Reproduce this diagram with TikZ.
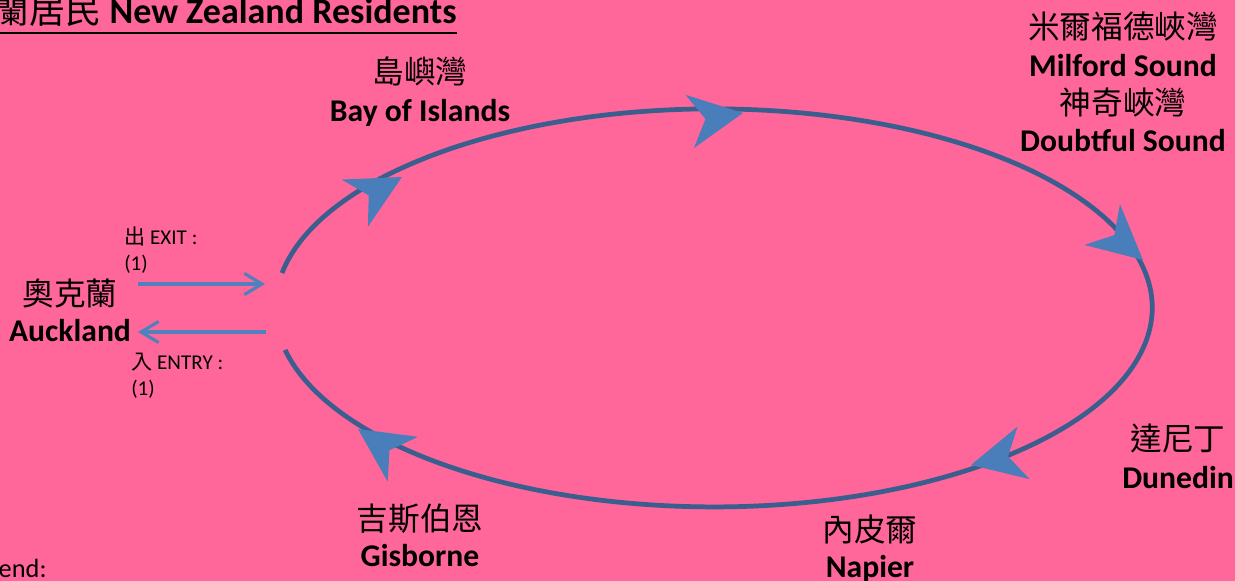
\documentclass[tikz,border=0pt]{standalone}
\usepackage{fontspec}
\setmainfont{Carlito}
\newfontfamily\cjk{Noto Sans CJK TC}
\usetikzlibrary{arrows.meta}

\definecolor{bgpink}{HTML}{FF6699}
\definecolor{loopblue}{HTML}{3A5F8E}
\definecolor{headblue}{HTML}{4A7EBB}
\definecolor{linkblue}{HTML}{4F81BD}

\begin{document}
\begin{tikzpicture}[x=0.02cm,y=-0.02cm,
  place/.style={align=center,inner sep=0pt,font=\fontsize{18}{20.5}\selectfont},
  tallplace/.style={place,font=\fontsize{18}{21.5}\selectfont},
  note/.style={anchor=west,align=left,inner sep=0pt,font=\fontsize{12}{14.7}\selectfont},
  loopline/.style={draw=loopblue,line width=2.7pt},
  head/.style={fill=headblue},
  link/.style={draw=linkblue,line width=1.8pt,-{Straight Barb[length=10pt,width=12pt]}}]
%background
\fill[bgpink] (0,0) rectangle (1235,581);
\useasboundingbox (0,0) rectangle (1235,581);
%title:
\node[anchor=base east,inner sep=0pt,font=\fontsize{20.5}{24}\selectfont] (title) at (457,24) {{\cjk 紐西蘭居民} \textbf{New Zealand Residents}};
\draw[line width=1.1pt] ([yshift=-5pt]title.base west) -- ([yshift=-5pt]title.base east);
%loop:
\coordinate (loopstart) at (282,273);
\draw[loopline] (loopstart) arc[start angle=190.1,end angle=527.8,x radius=438.5,y radius=199];
%heads on the loop:
\fill[head,shift={(402,177)},rotate=29] (0,0) -- (-54,27) -- (-38,0) -- (-54,-27) -- cycle;
\fill[head,shift={(743,113)},rotate=9] (0,0) -- (-54,27) -- (-38,0) -- (-54,-27) -- cycle;
\fill[head,shift={(1143,260)},rotate=-41] (0,0) -- (-54,27) -- (-38,0) -- (-54,-27) -- cycle;
\fill[head,shift={(971,465)},rotate=-167] (0,0) -- (-54,27) -- (-38,0) -- (-54,-27) -- cycle;
\fill[head,shift={(358,429)},rotate=146] (0,0) -- (-54,27) -- (-38,0) -- (-54,-27) -- cycle;
%places:
\node[tallplace] (islands) at (420,92) {{\cjk 島嶼灣}\\\textbf{Bay of Islands}};
\node[tallplace] (milford) at (1123,82) {{\cjk 米爾福德峽灣}\\\textbf{Milford Sound}\\{\cjk 神奇峽灣}\\\textbf{Doubtful Sound}};
\node[tallplace] (dunedin) at (1178,456) {{\cjk 達尼丁}\\\textbf{Dunedin}};
\node[place] (napier) at (870,549) {{\cjk 內皮爾}\\\textbf{Napier}};
\node[place] (gisborne) at (420,535) {{\cjk 吉斯伯恩}\\\textbf{Gisborne}};
\node[place] (auckland) at (70,310) {{\cjk 奧克蘭}\\\textbf{Auckland}};
%exit and entry:
\node[note] (exitnote) at (124,250) {{\cjk 出} EXIT :\\(1)};
\node[note] (entrynote) at (131,376) {{\cjk 入} ENTRY :\\(1)};
\coordinate (exitfrom) at (138,284);
\coordinate (exitto) at (265,284);
\coordinate (entryfrom) at (266,332);
\coordinate (entryto) at (138,332);
\draw[link] (exitfrom) -- (exitto);
\draw[link] (entryfrom) -- (entryto);
%legend
\node[anchor=base west,inner sep=0pt,font=\fontsize{15}{18}\selectfont] (legend) at (-38,577) {Legend:};
\end{tikzpicture}
\end{document}
